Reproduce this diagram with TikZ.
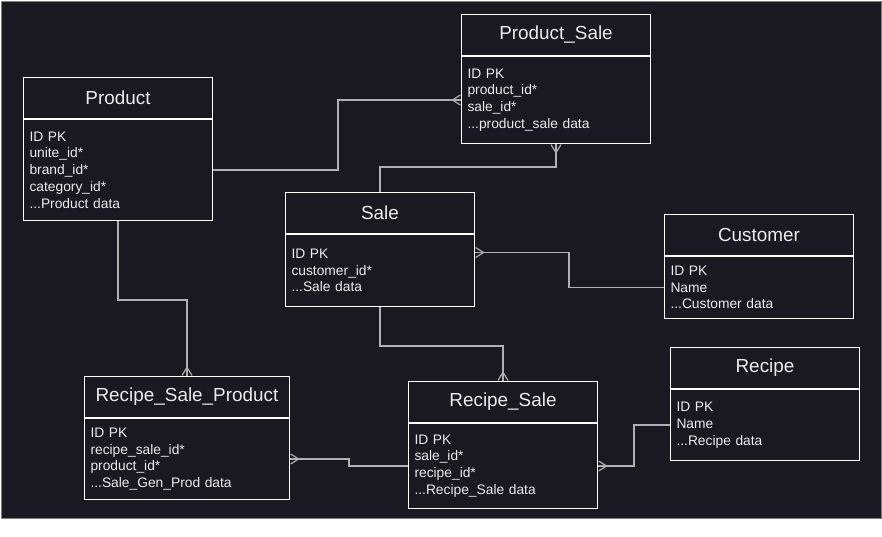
\documentclass[tikz,border=0pt]{standalone}
\usepackage{fontspec}
\setmainfont{Liberation Sans}
\usetikzlibrary{arrows.meta}
\definecolor{fondsombre}{HTML}{1A1820}
\definecolor{texteclair}{HTML}{ECECEC}
\definecolor{liengris}{HTML}{B0B0B0}

\begin{document}
\begin{tikzpicture}[x=1pt,y=-1pt,
  entete/.style={draw=white,line width=1pt,minimum height=41pt,inner sep=0pt,anchor=north west,
    text=texteclair,font=\fontsize{18.9}{22}\selectfont},
  corps/.style={draw=white,line width=1pt,anchor=north,inner xsep=6pt,inner ysep=0pt,align=left,
    text=texteclair,font=\fontsize{13.8}{16.75}\selectfont},
  lien/.style={draw=liengris,line width=1.2pt},
  plusieurs/.style={postaction={draw=liengris,line width=1.2pt,-{Straight Barb[reversed,length=8pt,width=10pt]}}}]
\useasboundingbox (0,0) rectangle (882,537);
% le fond
\fill[white] (0,0) rectangle (882,537);
\filldraw[fill=fondsombre,draw=gray] (1,1) rectangle (881,518);

% les tables
\foreach \n/\x/\y/\w/\h/\t/\l in {
    prod/23/77/189/101/Product/{ID PK\\unite\_id*\\brand\_id*\\category\_id*\\...Product data},
    ps/461/14/189/87/Product\_Sale/{ID PK\\product\_id*\\sale\_id*\\...product\_sale data},
    sal/285/192/189/72/Sale/{ID PK\\customer\_id*\\...Sale data},
    cust/664/214/189/62/Customer/{ID PK\\Name\\...Customer data},
    rec/670/347/189/71/Recipe/{ID PK\\Name\\...Recipe data},
    rsp/84/376/205/81/Recipe\_Sale\_Product/{ID PK\\recipe\_sale\_id*\\product\_id*\\...Sale\_Gen\_Prod data},
    rs/408/381/189/85/Recipe\_Sale/{ID PK\\sale\_id*\\recipe\_id*\\...Recipe\_Sale data}}
    {\pgfmathsetmacro\tw{\w-12}
     \node[entete,minimum width=\w pt] (\n-hd) at (\x,\y) {\t};
     \node[corps,minimum width=\w pt,text width=\tw pt,minimum height=\h pt] (\n-bd) at (\n-hd.south) {\l};}

% les liens (pattes d'oie au bout)
\draw[lien,plusieurs] (prod-bd.east) -- ++(125,0) |- (ps-bd.west);
\draw[lien,plusieurs] (sal-hd.north) -- ++(0,-25) -| (ps-bd.south);
\draw[lien,plusieurs] (cust-bd.west) -- ++(-95,0) |- ([yshift=18pt]sal-bd.east);
\draw[lien,plusieurs] (prod-bd.south) -- ++(0,79) -| (rsp-hd.north);
\draw[lien,plusieurs] (sal-bd.south) -- ++(0,39) -| (rs-hd.north);
\draw[lien,plusieurs] (rs-bd.west) -- ++(-59,0) |- (rsp-bd.east);
\draw[lien,plusieurs] (rec-bd.west) -- ++(-36,0) |- (rs-bd.east);
\end{tikzpicture}
\end{document}
